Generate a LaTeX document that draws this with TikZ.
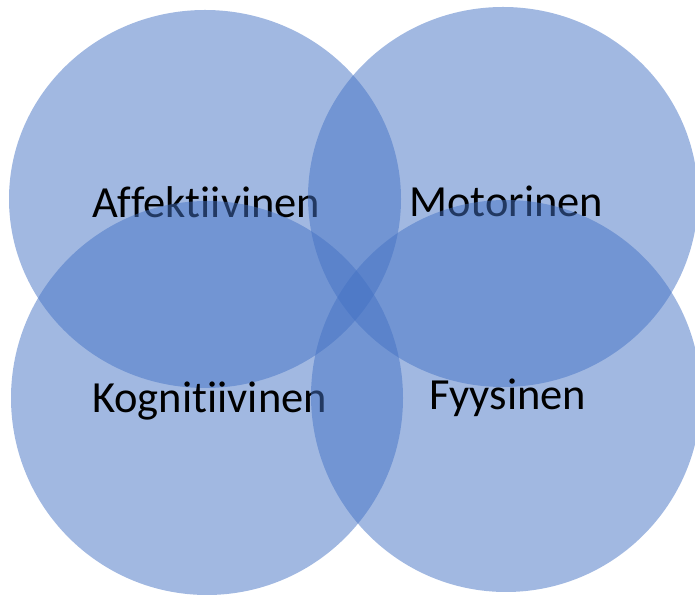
\documentclass[tikz,border=0pt]{standalone}
\usepackage{fontspec}
\setmainfont{Carlito}[RawFeature={-liga}]
\usetikzlibrary{shapes.geometric}
\definecolor{vennblue}{HTML}{4472C4}
\tikzset{
  venn/.style={ellipse, draw=none, fill=vennblue, fill opacity=0.5, inner sep=0pt},
  label/.style={anchor=base west, inner sep=0pt, text=black, font=\fontsize{44.5}{50}\selectfont}
}
\begin{document}
\begin{tikzpicture}[x=1pt,y=1pt]
  \useasboundingbox (0,0) rectangle (695,596);
  % each circle is followed by its own label, so later circles veil earlier labels
  \node[venn, minimum width=392pt, minimum height=378pt] (affc) at (205,397) {};
  \node[label] (afft) at (92,378) {Affektiivinen};
  \node[venn, minimum width=390pt, minimum height=380pt] (motc) at (503,399) {};
  \node[label] (mott) at (409,379) {Motorinen};
  \node[venn, minimum width=392pt, minimum height=394pt] (kogc) at (207,198) {};
  \node[label] (kogt) at (92,183) {Kognitiivinen};
  \node[venn, minimum width=390pt, minimum height=392pt] (fyyc) at (506,200) {};
  \node[label] (fyyt) at (429,186) {Fyysinen};
\end{tikzpicture}
\end{document}
